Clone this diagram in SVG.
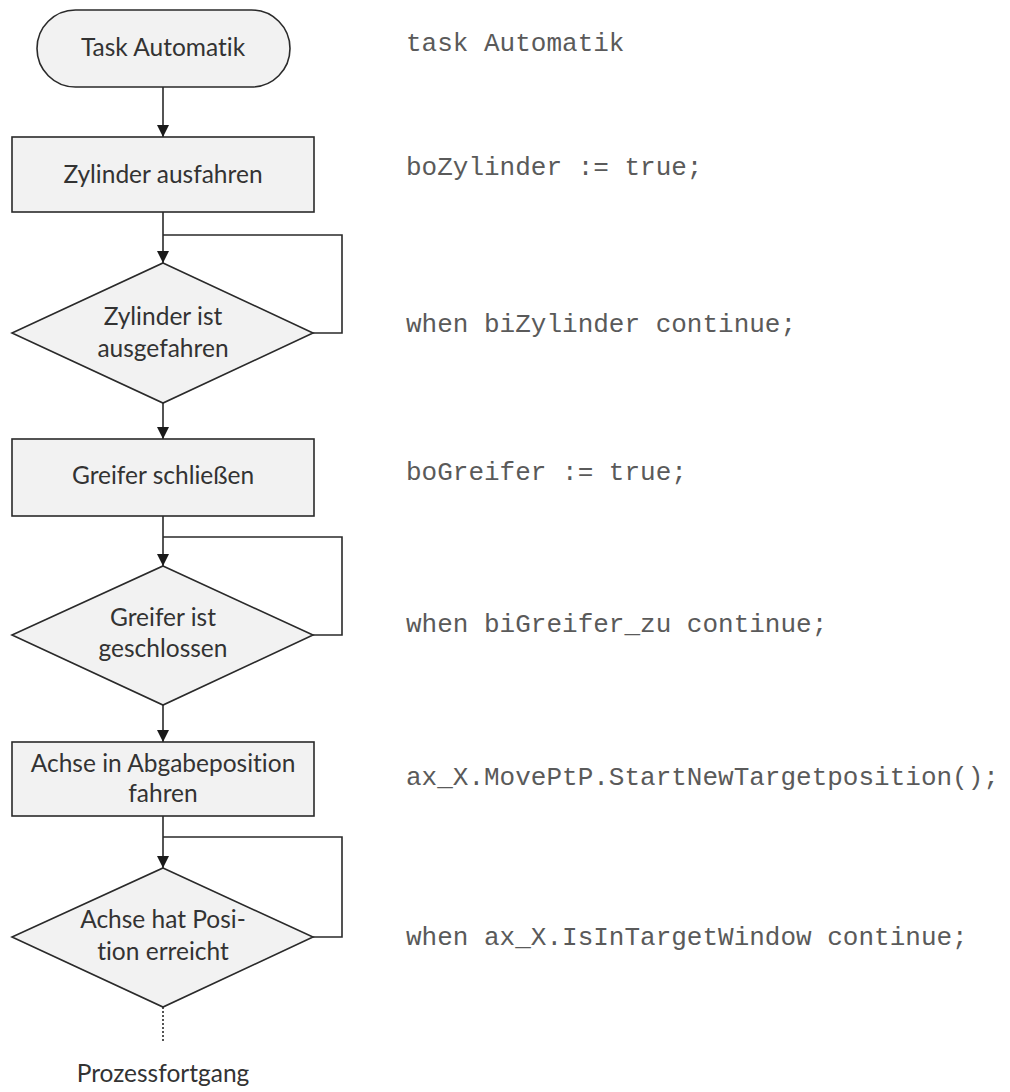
<svg xmlns="http://www.w3.org/2000/svg" width="1010" height="1092" viewBox="0 0 1010 1092">
<defs>
<style>
.shape{fill:#f2f2f2;stroke:#2a2a2a;stroke-width:1.6}
.lbl{font-family:Lato,"Open Sans","Liberation Sans",sans-serif;font-size:24.5px;fill:#333;text-anchor:middle;font-variant-ligatures:none}
.code{font-family:"Liberation Mono","Courier New",monospace;font-size:26px;fill:#5a5a5a}
.con{fill:none;stroke:#2a2a2a;stroke-width:1.6}
.dot{fill:none;stroke:#2a2a2a;stroke-width:1.6;stroke-dasharray:2 2}
</style>
<marker id="arr" viewBox="0 0 12 12" refX="12" refY="6" markerWidth="12" markerHeight="12" markerUnits="userSpaceOnUse" orient="auto">
<path d="M0,0 L12,6 L0,12 Z" fill="#1a1a1a"/>
</marker>
</defs>
<rect width="1010" height="1092" fill="#ffffff"/>

<g id="connectors">
<path class="con" d="M163,87 V137" marker-end="url(#arr)"/>
<path class="con" d="M163,212 V263" marker-end="url(#arr)"/>
<path class="con" d="M163,235 H342 V333 H313"/>
<path class="con" d="M163,403 V439" marker-end="url(#arr)"/>
<path class="con" d="M163,516 V566" marker-end="url(#arr)"/>
<path class="con" d="M163,537 H342 V635 H313"/>
<path class="con" d="M163,705 V742" marker-end="url(#arr)"/>
<path class="con" d="M163,816 V868" marker-end="url(#arr)"/>
<path class="con" d="M163,837 H342 V937 H313"/>
<path class="dot" d="M163,1007 V1042"/>
</g>

<g id="start">
<rect class="shape" x="37" y="10" width="253" height="77" rx="38.5" ry="38.5"/>
<text class="lbl" x="163" y="56">Task Automatik</text>
</g>
<g id="step1">
<rect class="shape" x="12" y="137" width="302" height="75"/>
<text class="lbl" x="163" y="183">Zylinder ausfahren</text>
</g>
<g id="cond1">
<polygon class="shape" points="163,263 313,333 163,403 12,333"/>
<text class="lbl" x="163" y="325">Zylinder ist</text>
<text class="lbl" x="163" y="357">ausgefahren</text>
</g>
<g id="step2">
<rect class="shape" x="12" y="439" width="302" height="77"/>
<text class="lbl" x="163" y="484">Greifer schließen</text>
</g>
<g id="cond2">
<polygon class="shape" points="163,566 313,635 163,705 12,635"/>
<text class="lbl" x="163" y="626">Greifer ist</text>
<text class="lbl" x="163" y="657">geschlossen</text>
</g>
<g id="step3">
<rect class="shape" x="12" y="742" width="302" height="74"/>
<text class="lbl" x="163" y="772">Achse in Abgabeposition</text>
<text class="lbl" x="163" y="802">fahren</text>
</g>
<g id="cond3">
<polygon class="shape" points="163,868 313,937 163,1007 12,937"/>
<text class="lbl" x="163" y="928">Achse hat Posi-</text>
<text class="lbl" x="163" y="960">tion erreicht</text>
</g>
<g id="end">
<text class="lbl" x="163" y="1082">Prozessfortgang</text>
</g>

<g id="code">
<text class="code" x="406" y="51">task Automatik</text>
<text class="code" x="406" y="175">boZylinder := true;</text>
<text class="code" x="406" y="332">when biZylinder continue;</text>
<text class="code" x="406" y="480">boGreifer := true;</text>
<text class="code" x="406" y="632">when biGreifer_zu continue;</text>
<text class="code" x="406" y="785">ax_X.MovePtP.StartNewTargetposition();</text>
<text class="code" x="406" y="945">when ax_X.IsInTargetWindow continue;</text>
</g>
</svg>
